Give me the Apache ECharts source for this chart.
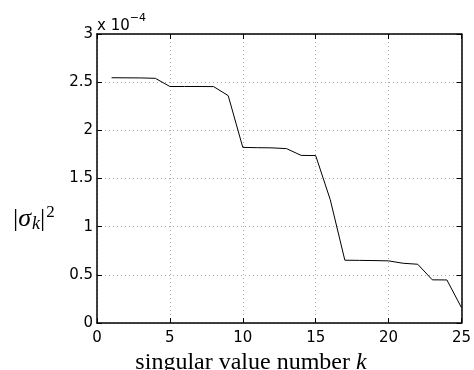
<!DOCTYPE html>
<html>
<head>
<meta charset="utf-8">
<script src="https://cdn.jsdelivr.net/npm/echarts@6/dist/echarts.min.js"></script>
<style>html,body{margin:0;padding:0;background:#fff}#c{width:474px;height:370px}</style>
</head>
<body>
<div id="c"></div>
<script>
var kValues = [1,2,3,4,5,6,7,8,9,10,11,12,13,14,15,16,17,18,19,20,21,22,23,24,25];
var sigmaSq = [2.546e-4,2.545e-4,2.544e-4,2.540e-4,2.455e-4,2.455e-4,2.455e-4,2.454e-4,2.360e-4,1.823e-4,
               1.820e-4,1.818e-4,1.810e-4,1.740e-4,1.738e-4,1.280e-4,0.652e-4,0.650e-4,0.648e-4,0.645e-4,
               0.620e-4,0.610e-4,0.448e-4,0.447e-4,0.160e-4];
var xTicks = [0,5,10,15,20,25];
var yTicks = ['0','0.5','1','1.5','2','2.5','3'];
var yScale = 1e-4;

var chart = echarts.init(document.getElementById('c'), null, {renderer:'canvas'});
var pts = kValues.map(function(k,i){return [k, sigmaSq[i]];});
var sans = 'DejaVu Sans, Liberation Sans, Arial, sans-serif';
var serif = 'Liberation Serif, Times New Roman, serif';
var tickFont = {fontFamily:sans, fontSize:15, color:'#000'};
var gridLine = {show:true, lineStyle:{color:'#aaa', type:[1,3], width:1}};
chart.setOption({
  animation:false,
  backgroundColor:'#fff',
  grid:{left:97, right:9, top:34, bottom:47, show:false},
  xAxis:[{
    type:'value', min:0, max:25, interval:5,
    axisLine:{show:true, onZero:false, lineStyle:{color:'#000', width:1.5}},
    axisTick:{show:true, inside:true, length:5, lineStyle:{color:'#000'}},
    axisLabel:Object.assign({margin:8, formatter:function(v){return xTicks.indexOf(v)>=0?String(v):'';}}, tickFont),
    splitLine:gridLine
  },{
    type:'value', min:0, max:25, interval:5, position:'top',
    axisLine:{show:true, onZero:false, lineStyle:{color:'#000', width:1.5}},
    axisTick:{show:true, inside:true, length:5, lineStyle:{color:'#000'}},
    axisLabel:{show:false}, splitLine:{show:false}
  }],
  yAxis:[{
    type:'value', min:0, max:3e-4, interval:0.5e-4,
    axisLine:{show:true, onZero:false, lineStyle:{color:'#000', width:1.5}},
    axisTick:{show:true, inside:true, length:5, lineStyle:{color:'#000'}},
    axisLabel:Object.assign({margin:4, formatter:function(v){return yTicks[Math.round(v/yScale*2)];}}, tickFont),
    splitLine:gridLine
  },{
    type:'value', min:0, max:3e-4, interval:0.5e-4, position:'right',
    axisLine:{show:true, onZero:false, lineStyle:{color:'#000', width:1.5}},
    axisTick:{show:true, inside:true, length:5, lineStyle:{color:'#000'}},
    axisLabel:{show:false}, splitLine:{show:false}
  }],
  series:[{
    type:'line', data:pts, xAxisIndex:0, yAxisIndex:0,
    showSymbol:false, symbol:'none',
    lineStyle:{color:'#000', width:1}
  }],
  graphic:[
    {type:'text', x:97, y:13, style:{
      text:'{a|x 10}{s|−4}', rich:{
        a:{fontFamily:sans, fontSize:15, fill:'#000', verticalAlign:'bottom'},
        s:{fontFamily:sans, fontSize:11, fill:'#000', verticalAlign:'top', padding:[0,0,10,0]}
      }}},
    {type:'text', x:13, y:204, style:{
      text:'{n||}{g|σ}{k|k}{n||}{s|2}', rich:{
        n:{fontFamily:serif, fontSize:26, fill:'#000'},
        g:{fontFamily:serif, fontStyle:'italic', fontSize:26, fill:'#000'},
        k:{fontFamily:serif, fontStyle:'italic', fontSize:18, fill:'#000', padding:[10,0,0,1]},
        s:{fontFamily:serif, fontSize:17, fill:'#000', padding:[0,0,14,1]}
      }}},
    {type:'text', x:251, y:351, style:{
      align:'center', text:'{n|singular value number }{i|k}', rich:{
        n:{fontFamily:serif, fontSize:24, fill:'#000'},
        i:{fontFamily:serif, fontStyle:'italic', fontSize:24, fill:'#000'}
      }}}
  ]
});
</script>
</body>
</html>
